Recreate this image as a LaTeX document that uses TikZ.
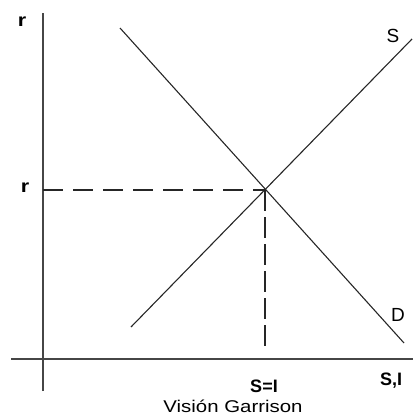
\documentclass[tikz,border=0pt]{standalone}
\usepackage{fontspec}
\setmainfont{Liberation Sans}
\usepackage{tikz}
\usetikzlibrary{positioning}
\definecolor{axisgray}{RGB}{70,70,70}

\begin{document}
\begin{tikzpicture}[x=1pt,y=-1pt,
  axis/.style={draw=axisgray, line width=1.8pt},
  curve/.style={draw=black!85, line width=1.1pt},
  guide/.style={draw=black!85, line width=1.3pt, dash pattern=on 20pt off 10pt},
  lab/.style={font=\fontsize{19}{22}\selectfont, inner sep=0pt},
  blab/.style={font=\fontsize{18}{21}\selectfont\bfseries, inner sep=0pt}]

  \useasboundingbox (0,0) rectangle (413,417);

  %% Axes
  \coordinate (ytop) at (43,13);
  \coordinate (ybot) at (43,391);
  \coordinate (xleft) at (11,359);
  \coordinate (xright) at (413,359);
  \draw[axis] (ybot) -- (ytop);
  \draw[axis] (xleft) -- (xright);

  %% Supply and demand
  \coordinate (Dstart) at (120,28);
  \coordinate (Dend) at (404,343);
  \coordinate (Sstart) at (131,327);
  \coordinate (Send) at (412,39);
  \draw[curve] (Dstart) -- (Dend);
  \draw[curve] (Sstart) -- (Send);

  %% Equilibrium
  \coordinate (eq) at (265,190);
  \coordinate (eqy) at (43,190);
  \coordinate (eqx) at (265,348);
  \draw[guide] (eqy) -- (eq);
  \draw[guide, dash pattern=on 21pt off 6pt] (eq) -- (eqx);

  %% Labels
  \node[blab, xscale=1.2] (rtop) at (22,22) {r};
  \node[blab, xscale=1.2] (req) at (25,188) {r};
  \node[lab] (slab) at (393,36) {S};
  \node[lab] (dlab) at (398,315) {D};
  \node[blab] (silab) at (264,386) {S=I};
  \node[blab] (axlab) at (391,381) {S,I};
  \node[lab, font=\fontsize{17}{20}\selectfont, xscale=1.2] (title) at (233,406) {Visión Garrison};
\end{tikzpicture}
\end{document}
